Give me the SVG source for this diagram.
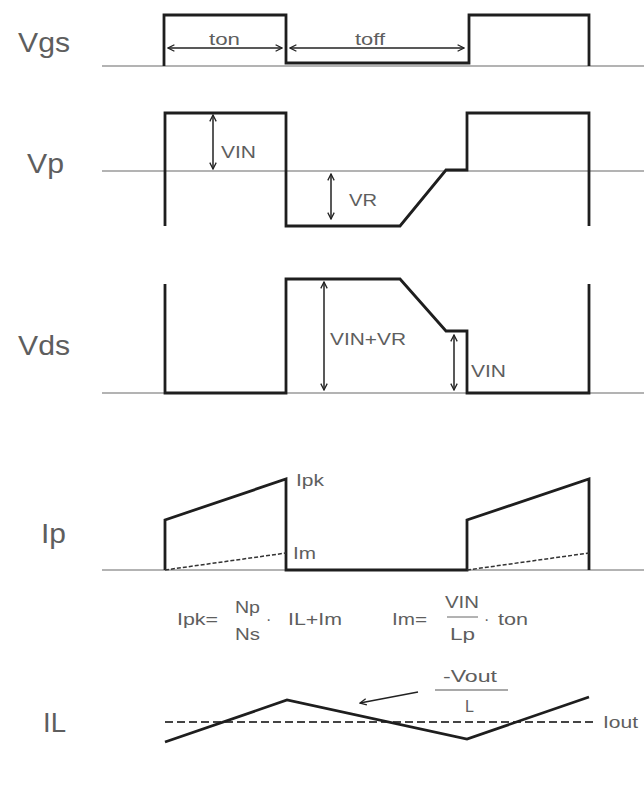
<svg xmlns="http://www.w3.org/2000/svg" width="644" height="787" viewBox="0 0 644 787">
<defs>
<marker id="ah" viewBox="0 0 10 10" refX="9" refY="5" markerWidth="8" markerHeight="8" markerUnits="userSpaceOnUse" orient="auto-start-reverse">
<path d="M1,1 L9,5 L1,9" fill="none" stroke="#222" stroke-width="1.6"/>
</marker>
</defs>
<style>
.bl{stroke:#9a9a9a;stroke-width:1.6;fill:none}
.wf{stroke:#1e1e1e;stroke-width:2.8;fill:none;stroke-linejoin:miter}
.ar{stroke:#222;stroke-width:1.5;fill:none;marker-start:url(#ah);marker-end:url(#ah)}
.ar1{stroke:#222;stroke-width:1.5;fill:none;marker-end:url(#ah)}
.ds{stroke:#333;stroke-width:1.5;fill:none;stroke-dasharray:4 2}
.dl{stroke:#444;stroke-width:2;fill:none;stroke-dasharray:8 4}
.lab{font-family:"Liberation Sans",Arial,sans-serif;font-size:28px;fill:#5e5e5e}
.sm{font-family:"Liberation Sans",Arial,sans-serif;font-size:16px;fill:#5e5e5e}
</style>
<g id="baselines">
<line class="bl" x1="102" y1="66" x2="644" y2="66"/>
<line class="bl" x1="102" y1="171" x2="644" y2="171"/>
<line class="bl" x1="102" y1="393" x2="644" y2="393"/>
<line class="bl" x1="102" y1="570" x2="644" y2="570"/>
</g>
<g id="vgs">
<text class="lab" x="18" y="52" textLength="52" lengthAdjust="spacingAndGlyphs">Vgs</text>
<path class="wf" d="M164 66 V15 H286 V63 H469 V15 H589 V66"/>
<line class="ar" x1="168" y1="48" x2="282" y2="48"/>
<line class="ar" x1="290" y1="48" x2="464" y2="48"/>
<text class="sm" x="209" y="45" textLength="31" lengthAdjust="spacingAndGlyphs">ton</text>
<text class="sm" x="355" y="45" textLength="30" lengthAdjust="spacingAndGlyphs">toff</text>
</g>
<g id="vp">
<text class="lab" x="27" y="173" textLength="37" lengthAdjust="spacingAndGlyphs">Vp</text>
<path class="wf" d="M165 226 V113 H286 V226 H400 L446 170 H467 V113 H589 V226"/>
<line class="ar" x1="213" y1="115" x2="213" y2="169"/>
<text class="sm" x="221" y="158" textLength="35" lengthAdjust="spacingAndGlyphs">VIN</text>
<line class="ar" x1="331" y1="174" x2="331" y2="219"/>
<text class="sm" x="349" y="206" textLength="28" lengthAdjust="spacingAndGlyphs">VR</text>
</g>
<g id="vds">
<text class="lab" x="18" y="355" textLength="52" lengthAdjust="spacingAndGlyphs">Vds</text>
<path class="wf" d="M165 284 V393 H286 V279 H400 L446 331 H467 V393 H589 V284"/>
<line class="ar" x1="324" y1="282" x2="324" y2="390"/>
<text class="sm" x="330" y="345" textLength="76" lengthAdjust="spacingAndGlyphs">VIN+VR</text>
<line class="ar" x1="454" y1="335" x2="454" y2="390"/>
<text class="sm" x="471" y="377" textLength="35" lengthAdjust="spacingAndGlyphs">VIN</text>
</g>
<g id="ip">
<text class="lab" x="41" y="543" textLength="25" lengthAdjust="spacingAndGlyphs">Ip</text>
<path class="wf" d="M165 570 V520 L286 479 V570 H467 V520 L589 479 V570"/>
<path class="ds" d="M165 570 L286 553 M467 570 L589 553"/>
<text class="sm" x="296" y="486" textLength="28" lengthAdjust="spacingAndGlyphs">Ipk</text>
<text class="sm" x="293" y="559" textLength="23" lengthAdjust="spacingAndGlyphs">Im</text>
</g>
<g id="formulas">
<text class="sm" x="177" y="625" textLength="41" lengthAdjust="spacingAndGlyphs">Ipk=</text>
<text class="sm" x="235" y="613" textLength="25" lengthAdjust="spacingAndGlyphs">Np</text>
<text class="sm" x="235" y="640" textLength="25" lengthAdjust="spacingAndGlyphs">Ns</text>
<text class="sm" x="266" y="625">·</text>
<text class="sm" x="288" y="625" textLength="54" lengthAdjust="spacingAndGlyphs">IL+Im</text>
<text class="sm" x="392" y="625" textLength="35" lengthAdjust="spacingAndGlyphs">Im=</text>
<text class="sm" x="445" y="608" textLength="34" lengthAdjust="spacingAndGlyphs">VIN</text>
<line x1="447" y1="617" x2="478" y2="617" stroke="#666" stroke-width="1"/>
<text class="sm" x="450" y="640" textLength="25" lengthAdjust="spacingAndGlyphs">Lp</text>
<text class="sm" x="484" y="625">·</text>
<text class="sm" x="498" y="625" textLength="30" lengthAdjust="spacingAndGlyphs">ton</text>
</g>
<g id="il">
<text class="lab" x="43" y="732" textLength="23" lengthAdjust="spacingAndGlyphs">IL</text>
<line class="dl" x1="165" y1="722" x2="597" y2="722"/>
<path class="wf" d="M165 742 L287 700 L467 739 L589 697"/>
<text class="sm" x="603" y="728" textLength="35" lengthAdjust="spacingAndGlyphs">Iout</text>
<line class="ar1" x1="418" y1="692" x2="360" y2="703"/>
<text class="sm" x="443" y="682" textLength="54" lengthAdjust="spacingAndGlyphs">-Vout</text>
<line x1="435" y1="690" x2="508" y2="690" stroke="#555" stroke-width="1.2"/>
<text class="sm" x="465" y="712">L</text>
</g>
</svg>
